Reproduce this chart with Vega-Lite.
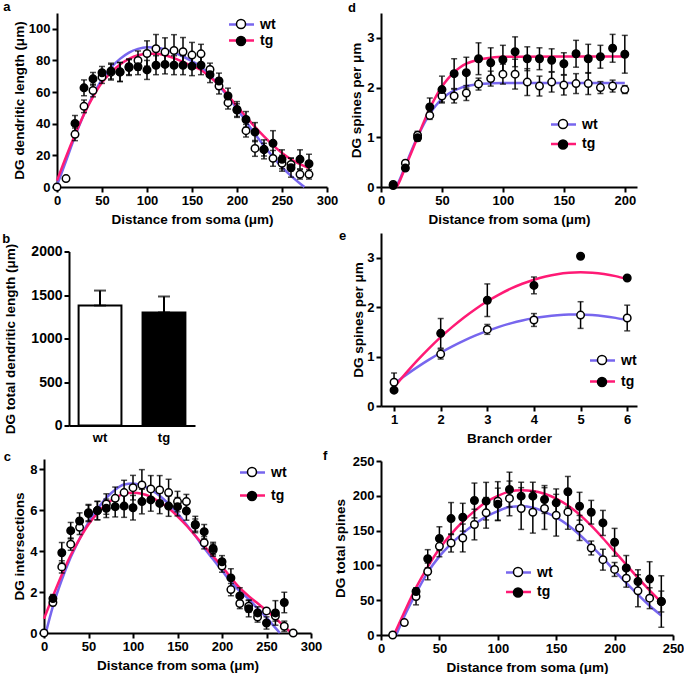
{
"$schema":"https://vega.github.io/schema/vega-lite/v6.json",
"padding":{"left":2,"top":1,"right":0,"bottom":0},
"datasets":{
"aFit":[
{"x":0,"fit":"wt","y":1},{"x":10,"fit":"wt","y":16.4},{"x":20,"fit":"wt","y":32},{"x":30,"fit":"wt","y":46},{"x":40,"fit":"wt","y":58},{"x":50,"fit":"wt","y":68},{"x":60,"fit":"wt","y":75.5},{"x":70,"fit":"wt","y":81},{"x":80,"fit":"wt","y":85},{"x":90,"fit":"wt","y":87.3},{"x":100,"fit":"wt","y":88.3},{"x":110,"fit":"wt","y":88.2},{"x":120,"fit":"wt","y":87},{"x":130,"fit":"wt","y":85},{"x":140,"fit":"wt","y":82.5},{"x":150,"fit":"wt","y":79.5},{"x":160,"fit":"wt","y":76},{"x":170,"fit":"wt","y":70.5},{"x":180,"fit":"wt","y":64},{"x":190,"fit":"wt","y":57},{"x":200,"fit":"wt","y":49.5},{"x":210,"fit":"wt","y":41.5},{"x":220,"fit":"wt","y":33.5},{"x":230,"fit":"wt","y":26},{"x":240,"fit":"wt","y":19},{"x":250,"fit":"wt","y":12.5},{"x":260,"fit":"wt","y":7},{"x":270,"fit":"wt","y":2.2},{"x":275,"fit":"wt","y":0},
{"x":0,"fit":"tg","y":4},{"x":10,"fit":"tg","y":19},{"x":20,"fit":"tg","y":33},{"x":30,"fit":"tg","y":46},{"x":40,"fit":"tg","y":57},{"x":50,"fit":"tg","y":66},{"x":60,"fit":"tg","y":72.5},{"x":70,"fit":"tg","y":77.5},{"x":80,"fit":"tg","y":81},{"x":90,"fit":"tg","y":83.3},{"x":100,"fit":"tg","y":84.3},{"x":110,"fit":"tg","y":84.3},{"x":120,"fit":"tg","y":83.3},{"x":130,"fit":"tg","y":81.5},{"x":140,"fit":"tg","y":79},{"x":150,"fit":"tg","y":76.5},{"x":160,"fit":"tg","y":74},{"x":170,"fit":"tg","y":69.5},{"x":180,"fit":"tg","y":64.5},{"x":190,"fit":"tg","y":58},{"x":200,"fit":"tg","y":51},{"x":210,"fit":"tg","y":44.5},{"x":220,"fit":"tg","y":38},{"x":230,"fit":"tg","y":32},{"x":240,"fit":"tg","y":26.5},{"x":250,"fit":"tg","y":21.5},{"x":260,"fit":"tg","y":17.5},{"x":270,"fit":"tg","y":14.5},{"x":280,"fit":"tg","y":12}
],
"aPts":[
{"x":0,"group":"wt","v":0,"err":0},{"x":10,"group":"wt","v":5.3,"err":1},{"x":20,"group":"wt","v":33.3,"err":4},{"x":30,"group":"wt","v":51,"err":4},{"x":40,"group":"wt","v":61,"err":4},{"x":50,"group":"wt","v":69.5,"err":4},{"x":60,"group":"wt","v":72.6,"err":5},{"x":70,"group":"wt","v":72.6,"err":6},{"x":80,"group":"wt","v":76,"err":5},{"x":90,"group":"wt","v":80,"err":6},{"x":100,"group":"wt","v":84.4,"err":8},{"x":110,"group":"wt","v":87.4,"err":9},{"x":120,"group":"wt","v":85.3,"err":9},{"x":130,"group":"wt","v":86.3,"err":10},{"x":140,"group":"wt","v":85.5,"err":9},{"x":150,"group":"wt","v":83.4,"err":8},{"x":160,"group":"wt","v":84.2,"err":6},{"x":170,"group":"wt","v":74.3,"err":4},{"x":180,"group":"wt","v":63.8,"err":5},{"x":190,"group":"wt","v":53.3,"err":4},{"x":200,"group":"wt","v":48.6,"err":4},{"x":210,"group":"wt","v":35.6,"err":4},{"x":220,"group":"wt","v":24.4,"err":5},{"x":230,"group":"wt","v":23.6,"err":4},{"x":240,"group":"wt","v":18.1,"err":5},{"x":250,"group":"wt","v":15,"err":5},{"x":260,"group":"wt","v":14.3,"err":4},{"x":270,"group":"wt","v":8,"err":3},{"x":280,"group":"wt","v":8,"err":3},
{"x":20,"group":"tg","v":40.2,"err":5},{"x":30,"group":"tg","v":62.7,"err":5},{"x":40,"group":"tg","v":68.4,"err":4},{"x":50,"group":"tg","v":72.2,"err":4},{"x":60,"group":"tg","v":73.3,"err":5},{"x":70,"group":"tg","v":72.8,"err":6},{"x":80,"group":"tg","v":75.5,"err":5},{"x":90,"group":"tg","v":76,"err":5},{"x":100,"group":"tg","v":74,"err":6},{"x":110,"group":"tg","v":77,"err":6},{"x":120,"group":"tg","v":77.5,"err":6},{"x":130,"group":"tg","v":77,"err":6},{"x":140,"group":"tg","v":77,"err":6},{"x":150,"group":"tg","v":76.4,"err":6},{"x":160,"group":"tg","v":77,"err":6},{"x":170,"group":"tg","v":71,"err":5},{"x":180,"group":"tg","v":67,"err":5},{"x":190,"group":"tg","v":57.5,"err":5},{"x":200,"group":"tg","v":49,"err":5},{"x":210,"group":"tg","v":42.7,"err":5},{"x":220,"group":"tg","v":34.7,"err":6},{"x":230,"group":"tg","v":23.8,"err":6},{"x":240,"group":"tg","v":27.6,"err":8},{"x":250,"group":"tg","v":17.5,"err":6},{"x":260,"group":"tg","v":12.2,"err":6},{"x":270,"group":"tg","v":17.5,"err":6},{"x":280,"group":"tg","v":14.7,"err":6}
],
"bBar":[{"group":"wt","v":1379,"hi":1551},{"group":"tg","v":1300,"hi":1483}],
"cFit":[
{"x":2,"fit":"wt","y":0},{"x":10,"fit":"wt","y":1.3},{"x":20,"fit":"wt","y":2.6},{"x":30,"fit":"wt","y":3.7},{"x":40,"fit":"wt","y":4.6},{"x":50,"fit":"wt","y":5.4},{"x":60,"fit":"wt","y":6.05},{"x":70,"fit":"wt","y":6.6},{"x":80,"fit":"wt","y":7.0},{"x":90,"fit":"wt","y":7.25},{"x":100,"fit":"wt","y":7.3},{"x":110,"fit":"wt","y":7.2},{"x":120,"fit":"wt","y":7.0},{"x":130,"fit":"wt","y":6.7},{"x":140,"fit":"wt","y":6.3},{"x":150,"fit":"wt","y":5.85},{"x":160,"fit":"wt","y":5.3},{"x":170,"fit":"wt","y":4.75},{"x":180,"fit":"wt","y":4.15},{"x":190,"fit":"wt","y":3.6},{"x":200,"fit":"wt","y":3.05},{"x":210,"fit":"wt","y":2.5},{"x":220,"fit":"wt","y":2.05},{"x":230,"fit":"wt","y":1.65},{"x":240,"fit":"wt","y":1.2},{"x":250,"fit":"wt","y":0.75},{"x":260,"fit":"wt","y":0.25},{"x":265,"fit":"wt","y":0},
{"x":0,"fit":"tg","y":0.7},{"x":10,"fit":"tg","y":1.8},{"x":20,"fit":"tg","y":2.85},{"x":30,"fit":"tg","y":3.8},{"x":40,"fit":"tg","y":4.6},{"x":50,"fit":"tg","y":5.3},{"x":60,"fit":"tg","y":5.85},{"x":70,"fit":"tg","y":6.3},{"x":80,"fit":"tg","y":6.6},{"x":90,"fit":"tg","y":6.8},{"x":100,"fit":"tg","y":6.85},{"x":110,"fit":"tg","y":6.8},{"x":120,"fit":"tg","y":6.65},{"x":130,"fit":"tg","y":6.4},{"x":140,"fit":"tg","y":6.1},{"x":150,"fit":"tg","y":5.7},{"x":160,"fit":"tg","y":5.25},{"x":170,"fit":"tg","y":4.75},{"x":180,"fit":"tg","y":4.25},{"x":190,"fit":"tg","y":3.75},{"x":200,"fit":"tg","y":3.25},{"x":210,"fit":"tg","y":2.7},{"x":220,"fit":"tg","y":2.2},{"x":230,"fit":"tg","y":1.8},{"x":240,"fit":"tg","y":1.45},{"x":250,"fit":"tg","y":1.1},{"x":260,"fit":"tg","y":0.72},{"x":270,"fit":"tg","y":0.32},{"x":278,"fit":"tg","y":0}
],
"cPts":[
{"x":0,"group":"wt","v":0,"err":0},{"x":10,"group":"wt","v":1.49,"err":0.15},{"x":20,"group":"wt","v":3.23,"err":0.3},{"x":30,"group":"wt","v":4.34,"err":0.3},{"x":40,"group":"wt","v":5.16,"err":0.35},{"x":50,"group":"wt","v":5.88,"err":0.4},{"x":60,"group":"wt","v":5.98,"err":0.45},{"x":70,"group":"wt","v":6.3,"err":0.5},{"x":80,"group":"wt","v":6.58,"err":0.55},{"x":90,"group":"wt","v":6.86,"err":0.6},{"x":100,"group":"wt","v":7.1,"err":0.6},{"x":110,"group":"wt","v":7.23,"err":0.75},{"x":120,"group":"wt","v":7.04,"err":0.65},{"x":130,"group":"wt","v":6.99,"err":0.7},{"x":140,"group":"wt","v":6.86,"err":0.65},{"x":150,"group":"wt","v":6.42,"err":0.5},{"x":160,"group":"wt","v":6.42,"err":0.35},{"x":170,"group":"wt","v":5.27,"err":0.3},{"x":180,"group":"wt","v":4.41,"err":0.3},{"x":190,"group":"wt","v":4.05,"err":0.3},{"x":200,"group":"wt","v":3.27,"err":0.3},{"x":210,"group":"wt","v":2.12,"err":0.3},{"x":220,"group":"wt","v":1.44,"err":0.25},{"x":230,"group":"wt","v":1.31,"err":0.3},{"x":240,"group":"wt","v":0.78,"err":0.25},{"x":250,"group":"wt","v":1.08,"err":0.1},{"x":260,"group":"wt","v":0.83,"err":0.25},{"x":270,"group":"wt","v":0.33,"err":0.25},{"x":280,"group":"wt","v":0,"err":0},
{"x":10,"group":"tg","v":1.68,"err":0.2},{"x":20,"group":"tg","v":3.92,"err":0.5},{"x":30,"group":"tg","v":5.0,"err":0.4},{"x":40,"group":"tg","v":5.47,"err":0.4},{"x":50,"group":"tg","v":5.84,"err":0.4},{"x":60,"group":"tg","v":5.98,"err":0.45},{"x":70,"group":"tg","v":6.09,"err":0.45},{"x":80,"group":"tg","v":6.17,"err":0.5},{"x":90,"group":"tg","v":6.2,"err":0.55},{"x":100,"group":"tg","v":6.12,"err":0.6},{"x":110,"group":"tg","v":6.42,"err":0.6},{"x":120,"group":"tg","v":6.5,"err":0.55},{"x":130,"group":"tg","v":6.33,"err":0.5},{"x":140,"group":"tg","v":6.2,"err":0.5},{"x":150,"group":"tg","v":6.17,"err":0.45},{"x":160,"group":"tg","v":5.96,"err":0.45},{"x":170,"group":"tg","v":5.3,"err":0.4},{"x":180,"group":"tg","v":4.95,"err":0.35},{"x":190,"group":"tg","v":4.13,"err":0.3},{"x":200,"group":"tg","v":3.48,"err":0.3},{"x":210,"group":"tg","v":2.69,"err":0.45},{"x":220,"group":"tg","v":1.81,"err":0.4},{"x":230,"group":"tg","v":1.19,"err":0.4},{"x":240,"group":"tg","v":0.98,"err":0.3},{"x":250,"group":"tg","v":0.49,"err":0.3},{"x":260,"group":"tg","v":0.98,"err":0.6},{"x":270,"group":"tg","v":1.49,"err":0.5}
],
"dFit":[
{"x":12,"fit":"wt","y":0},{"x":15,"fit":"wt","y":0.13},{"x":20,"fit":"wt","y":0.43},{"x":25,"fit":"wt","y":0.73},{"x":30,"fit":"wt","y":1.01},{"x":35,"fit":"wt","y":1.26},{"x":40,"fit":"wt","y":1.47},{"x":45,"fit":"wt","y":1.64},{"x":50,"fit":"wt","y":1.77},{"x":55,"fit":"wt","y":1.87},{"x":60,"fit":"wt","y":1.94},{"x":65,"fit":"wt","y":1.99},{"x":70,"fit":"wt","y":2.03},{"x":80,"fit":"wt","y":2.07},{"x":90,"fit":"wt","y":2.085},{"x":100,"fit":"wt","y":2.09},{"x":150,"fit":"wt","y":2.09},{"x":200,"fit":"wt","y":2.09},
{"x":13,"fit":"tg","y":0},{"x":15,"fit":"tg","y":0.1},{"x":20,"fit":"tg","y":0.4},{"x":25,"fit":"tg","y":0.7},{"x":30,"fit":"tg","y":1.0},{"x":35,"fit":"tg","y":1.3},{"x":40,"fit":"tg","y":1.58},{"x":45,"fit":"tg","y":1.82},{"x":50,"fit":"tg","y":2.02},{"x":55,"fit":"tg","y":2.18},{"x":60,"fit":"tg","y":2.31},{"x":65,"fit":"tg","y":2.41},{"x":70,"fit":"tg","y":2.48},{"x":80,"fit":"tg","y":2.56},{"x":90,"fit":"tg","y":2.6},{"x":100,"fit":"tg","y":2.62},{"x":150,"fit":"tg","y":2.625},{"x":200,"fit":"tg","y":2.625}
],
"dPts":[
{"x":10,"group":"wt","v":0.05,"err":0},{"x":20,"group":"wt","v":0.48,"err":0.05},{"x":30,"group":"wt","v":1.04,"err":0.08},{"x":40,"group":"wt","v":1.44,"err":0.08},{"x":50,"group":"wt","v":1.83,"err":0.12},{"x":60,"group":"wt","v":1.83,"err":0.14},{"x":70,"group":"wt","v":1.89,"err":0.15},{"x":80,"group":"wt","v":2.07,"err":0.12},{"x":90,"group":"wt","v":2.18,"err":0.15},{"x":100,"group":"wt","v":2.27,"err":0.2},{"x":110,"group":"wt","v":2.27,"err":0.3},{"x":120,"group":"wt","v":2.11,"err":0.27},{"x":130,"group":"wt","v":2.03,"err":0.2},{"x":140,"group":"wt","v":2.11,"err":0.2},{"x":150,"group":"wt","v":2.05,"err":0.2},{"x":160,"group":"wt","v":2.08,"err":0.2},{"x":170,"group":"wt","v":2.08,"err":0.22},{"x":180,"group":"wt","v":2.0,"err":0.12},{"x":190,"group":"wt","v":2.03,"err":0.12},{"x":200,"group":"wt","v":1.96,"err":0.08},
{"x":10,"group":"tg","v":0.03,"err":0},{"x":20,"group":"tg","v":0.38,"err":0.04},{"x":30,"group":"tg","v":0.99,"err":0.07},{"x":40,"group":"tg","v":1.61,"err":0.18},{"x":50,"group":"tg","v":1.96,"err":0.27},{"x":60,"group":"tg","v":2.28,"err":0.3},{"x":70,"group":"tg","v":2.3,"err":0.31},{"x":80,"group":"tg","v":2.58,"err":0.32},{"x":90,"group":"tg","v":2.5,"err":0.3},{"x":100,"group":"tg","v":2.56,"err":0.29},{"x":110,"group":"tg","v":2.72,"err":0.3},{"x":120,"group":"tg","v":2.58,"err":0.24},{"x":130,"group":"tg","v":2.58,"err":0.22},{"x":140,"group":"tg","v":2.55,"err":0.23},{"x":150,"group":"tg","v":2.48,"err":0.22},{"x":160,"group":"tg","v":2.68,"err":0.27},{"x":170,"group":"tg","v":2.58,"err":0.29},{"x":180,"group":"tg","v":2.62,"err":0.23},{"x":190,"group":"tg","v":2.79,"err":0.28},{"x":200,"group":"tg","v":2.67,"err":0.38}
],
"eFit":[
{"x":1,"fit":"wt","y":0.45},{"x":1.25,"fit":"wt","y":0.624},{"x":1.5,"fit":"wt","y":0.787},{"x":1.75,"fit":"wt","y":0.938},{"x":2,"fit":"wt","y":1.078},{"x":2.25,"fit":"wt","y":1.206},{"x":2.5,"fit":"wt","y":1.322},{"x":2.75,"fit":"wt","y":1.427},{"x":3,"fit":"wt","y":1.52},{"x":3.25,"fit":"wt","y":1.602},{"x":3.5,"fit":"wt","y":1.672},{"x":3.75,"fit":"wt","y":1.731},{"x":4,"fit":"wt","y":1.778},{"x":4.25,"fit":"wt","y":1.813},{"x":4.5,"fit":"wt","y":1.837},{"x":4.75,"fit":"wt","y":1.849},{"x":5,"fit":"wt","y":1.85},{"x":5.25,"fit":"wt","y":1.839},{"x":5.5,"fit":"wt","y":1.817},{"x":5.75,"fit":"wt","y":1.783},{"x":6,"fit":"wt","y":1.738},
{"x":1,"fit":"tg","y":0.38},{"x":1.25,"fit":"tg","y":0.66},{"x":1.5,"fit":"tg","y":0.923},{"x":1.75,"fit":"tg","y":1.167},{"x":2,"fit":"tg","y":1.394},{"x":2.25,"fit":"tg","y":1.601},{"x":2.5,"fit":"tg","y":1.792},{"x":2.75,"fit":"tg","y":1.964},{"x":3,"fit":"tg","y":2.118},{"x":3.25,"fit":"tg","y":2.254},{"x":3.5,"fit":"tg","y":2.373},{"x":3.75,"fit":"tg","y":2.473},{"x":4,"fit":"tg","y":2.555},{"x":4.25,"fit":"tg","y":2.619},{"x":4.5,"fit":"tg","y":2.666},{"x":4.75,"fit":"tg","y":2.694},{"x":5,"fit":"tg","y":2.704},{"x":5.25,"fit":"tg","y":2.696},{"x":5.5,"fit":"tg","y":2.671},{"x":5.75,"fit":"tg","y":2.627},{"x":6,"fit":"tg","y":2.565}
],
"ePts":[
{"x":1,"group":"wt","v":0.48,"err":0.19},{"x":2,"group":"wt","v":1.05,"err":0.1},{"x":3,"group":"wt","v":1.55,"err":0.1},{"x":4,"group":"wt","v":1.74,"err":0.13},{"x":5,"group":"wt","v":1.84,"err":0.27},{"x":6,"group":"wt","v":1.78,"err":0.26},
{"x":1,"group":"tg","v":0.32,"err":0},{"x":2,"group":"tg","v":1.47,"err":0.3},{"x":3,"group":"tg","v":2.14,"err":0.33},{"x":4,"group":"tg","v":2.44,"err":0.17},{"x":5,"group":"tg","v":3.03,"err":0},{"x":6,"group":"tg","v":2.59,"err":0}
],
"fFit":[
{"x":13,"fit":"wt","y":0},{"x":20,"fit":"wt","y":27},{"x":30,"fit":"wt","y":60},{"x":40,"fit":"wt","y":90},{"x":50,"fit":"wt","y":113},{"x":60,"fit":"wt","y":131},{"x":70,"fit":"wt","y":146},{"x":80,"fit":"wt","y":159},{"x":90,"fit":"wt","y":170},{"x":100,"fit":"wt","y":178},{"x":110,"fit":"wt","y":184},{"x":120,"fit":"wt","y":185},{"x":130,"fit":"wt","y":183},{"x":140,"fit":"wt","y":177},{"x":150,"fit":"wt","y":169},{"x":160,"fit":"wt","y":158},{"x":170,"fit":"wt","y":144},{"x":180,"fit":"wt","y":128},{"x":190,"fit":"wt","y":111},{"x":200,"fit":"wt","y":92},{"x":210,"fit":"wt","y":75},{"x":220,"fit":"wt","y":58},{"x":230,"fit":"wt","y":42},{"x":240,"fit":"wt","y":28},
{"x":11,"fit":"tg","y":0},{"x":20,"fit":"tg","y":33},{"x":30,"fit":"tg","y":68},{"x":40,"fit":"tg","y":98},{"x":50,"fit":"tg","y":124},{"x":60,"fit":"tg","y":145},{"x":70,"fit":"tg","y":163},{"x":80,"fit":"tg","y":178},{"x":90,"fit":"tg","y":191},{"x":100,"fit":"tg","y":200},{"x":110,"fit":"tg","y":206},{"x":120,"fit":"tg","y":208},{"x":130,"fit":"tg","y":207},{"x":140,"fit":"tg","y":203},{"x":150,"fit":"tg","y":196},{"x":160,"fit":"tg","y":186},{"x":170,"fit":"tg","y":173},{"x":180,"fit":"tg","y":157},{"x":190,"fit":"tg","y":139},{"x":200,"fit":"tg","y":120},{"x":210,"fit":"tg","y":101},{"x":220,"fit":"tg","y":82},{"x":230,"fit":"tg","y":64},{"x":240,"fit":"tg","y":47}
],
"fPts":[
{"x":10,"group":"wt","v":0,"err":0},{"x":20,"group":"wt","v":17.8,"err":3},{"x":30,"group":"wt","v":55.3,"err":12},{"x":40,"group":"wt","v":91.3,"err":12},{"x":50,"group":"wt","v":127.4,"err":15},{"x":60,"group":"wt","v":132.2,"err":13},{"x":70,"group":"wt","v":139.4,"err":20},{"x":80,"group":"wt","v":158.7,"err":22},{"x":90,"group":"wt","v":175.5,"err":22},{"x":100,"group":"wt","v":192.3,"err":28},{"x":110,"group":"wt","v":196.2,"err":25},{"x":120,"group":"wt","v":181.7,"err":30},{"x":130,"group":"wt","v":176.4,"err":30},{"x":140,"group":"wt","v":181.7,"err":30},{"x":150,"group":"wt","v":172.1,"err":30},{"x":160,"group":"wt","v":176.9,"err":25},{"x":170,"group":"wt","v":153.8,"err":18},{"x":180,"group":"wt","v":125,"err":10},{"x":190,"group":"wt","v":108.2,"err":15},{"x":200,"group":"wt","v":94.2,"err":10},{"x":210,"group":"wt","v":81.7,"err":13},{"x":220,"group":"wt","v":63.5,"err":23},{"x":230,"group":"wt","v":52.9,"err":15},{"x":240,"group":"wt","v":48.1,"err":37},
{"x":30,"group":"tg","v":62.5,"err":5},{"x":40,"group":"tg","v":109.6,"err":13},{"x":50,"group":"tg","v":138.5,"err":17},{"x":60,"group":"tg","v":167.3,"err":23},{"x":70,"group":"tg","v":169.2,"err":20},{"x":80,"group":"tg","v":193.3,"err":25},{"x":90,"group":"tg","v":192.3,"err":27},{"x":100,"group":"tg","v":188,"err":23},{"x":110,"group":"tg","v":209,"err":25},{"x":120,"group":"tg","v":199.5,"err":20},{"x":130,"group":"tg","v":199.5,"err":20},{"x":140,"group":"tg","v":194.7,"err":20},{"x":150,"group":"tg","v":189.9,"err":20},{"x":160,"group":"tg","v":205.8,"err":22},{"x":170,"group":"tg","v":185,"err":20},{"x":180,"group":"tg","v":176.4,"err":17},{"x":190,"group":"tg","v":161,"err":18},{"x":200,"group":"tg","v":133.2,"err":20},{"x":210,"group":"tg","v":96.2,"err":18},{"x":220,"group":"tg","v":76.9,"err":17},{"x":230,"group":"tg","v":80.3,"err":25},{"x":240,"group":"tg","v":48.1,"err":15}
]
},
"spacing":-15,
"resolve":{"scale":{"stroke":"independent","fill":"independent"},"legend":{"stroke":"independent","fill":"independent"}},
"hconcat":[
{"vconcat":[
{"width":283,"height":174,
 "title":{"text":"a","offset":-1,"dx":-9},
 "layer":[
 {"data":{"name":"aFit"},"mark":{"type":"line","strokeWidth":2.5,"interpolate":"monotone"},
  "encoding":{"x":{"field":"x","type":"quantitative","scale":{"domain":[0,300],"range":[13,283],"nice":false},"axis":{"values":[0,50,100,150,200,250,300],"format":"d","title":"Distance from soma (μm)","labelOverlap":false}},
   "y":{"field":"y","type":"quantitative","scale":{"domain":[0,110],"nice":false},"axis":{"values":[0,20,40,60,80,100],"format":"d","title":"DG dendritic length (μm)","titlePadding":2,"offset":-13,"labelOverlap":false}},
   "stroke":{"field":"fit","type":"nominal","sort":"descending","scale":{"range":["#7766ee","#ff1a75"]},"legend":{"orient":"none","legendX":190,"legendY":4,"direction":"vertical","title":null,"symbolType":"M-2,0H2","symbolSize":156.25,"symbolStrokeWidth":2.5,"symbolFillColor":"transparent","rowPadding":1,"padding":0,"labelOffset":11}}}},
 {"data":{"name":"aPts"},"transform":[{"filter":"datum.err > 0"}],"mark":{"type":"errorbar","color":"black","thickness":1.5,"ticks":{"size":6,"thickness":1.5,"color":"black"}},
  "encoding":{"x":{"field":"x","type":"quantitative","axis":{"values":[0,50,100,150,200,250,300],"format":"d","title":"Distance from soma (μm)","labelOverlap":false}},"y":{"field":"v","type":"quantitative","axis":{"values":[0,20,40,60,80,100],"format":"d","title":"DG dendritic length (μm)","titlePadding":2,"offset":-13,"labelOverlap":false}},"yError":{"field":"err"}}},
 {"data":{"name":"aPts"},"mark":{"type":"point","shape":"circle","filled":true,"size":56,"stroke":"black","strokeWidth":1.5,"opacity":1},
  "encoding":{"x":{"field":"x","type":"quantitative","axis":{"values":[0,50,100,150,200,250,300],"format":"d","title":"Distance from soma (μm)","labelOverlap":false}},"y":{"field":"v","type":"quantitative","axis":{"values":[0,20,40,60,80,100],"format":"d","title":"DG dendritic length (μm)","titlePadding":2,"offset":-13,"labelOverlap":false}},
   "fill":{"field":"group","type":"nominal","sort":"descending","scale":{"range":["white","black"]},"legend":{"orient":"none","legendX":190,"legendY":4,"direction":"vertical","title":null,"symbolType":"M0.72,0A0.72,0.72,0,1,1,-0.72,0A0.72,0.72,0,1,1,0.72,0Z","symbolSize":156.25,"symbolStrokeColor":"black","symbolStrokeWidth":1.5,"symbolOpacity":1,"rowPadding":1,"padding":0,"labelOffset":11,"labelOpacity":0}}}}
 ]},
{"width":151,"height":174,
 "title":{"text":"b","offset":-3,"dx":-1.5},
 "data":{"name":"bBar"},
 "layer":[
 {"mark":{"type":"bar","stroke":"black","strokeWidth":2},
  "encoding":{"x":{"field":"group","type":"nominal","sort":["wt","tg"],"scale":{"range":[25,151],"paddingInner":0.33,"paddingOuter":0.15},"axis":{"title":null,"labelAngle":0,"ticks":false,"labelPadding":6}},
   "y":{"field":"v","type":"quantitative","scale":{"domain":[0,2000],"nice":false},"axis":{"values":[0,500,1000,1500,2000],"format":"d","title":"DG total dendritic length (μm)","titlePadding":13,"labelFontSize":14,"offset":-25,"labelOverlap":false}},
   "fill":{"field":"group","type":"nominal","scale":{"domain":["wt","tg"],"range":["white","black"]},"legend":null}}},
 {"mark":{"type":"errorbar","color":"black","thickness":2,"ticks":{"size":12,"thickness":2,"color":"black"}},
  "encoding":{"x":{"field":"group","type":"nominal","sort":["wt","tg"],"axis":{"title":null,"labelAngle":0,"ticks":false,"labelPadding":6}},"y":{"field":"v","type":"quantitative","axis":{"values":[0,500,1000,1500,2000],"format":"d","title":"DG total dendritic length (μm)","titlePadding":13,"labelFontSize":14,"offset":-25,"labelOverlap":false}},"y2":{"field":"hi"}}}
 ]},
{"width":267,"height":174,
 "title":{"text":"c","offset":-5,"dx":-9},
 "layer":[
 {"data":{"name":"cFit"},"mark":{"type":"line","strokeWidth":2.5,"interpolate":"monotone"},
  "encoding":{"x":{"field":"x","type":"quantitative","scale":{"domain":[0,300],"nice":false},"axis":{"values":[0,50,100,150,200,250,300],"format":"d","title":"Distance from soma (μm)","labelOverlap":false}},
   "y":{"field":"y","type":"quantitative","scale":{"domain":[0,8.5],"nice":false},"axis":{"values":[0,2,4,6,8],"format":"d","title":"DG intersections","titlePadding":3,"labelOverlap":false}},
   "stroke":{"field":"fit","type":"nominal","sort":"descending","scale":{"range":["#7766ee","#ff1a75"]},"legend":{"orient":"none","legendX":201,"legendY":6,"direction":"vertical","title":null,"symbolType":"M-2,0H2","symbolSize":156.25,"symbolStrokeWidth":2.5,"symbolFillColor":"transparent","rowPadding":8,"padding":0,"labelOffset":11}}}},
 {"data":{"name":"cPts"},"transform":[{"filter":"datum.err > 0"}],"mark":{"type":"errorbar","color":"black","thickness":1.5,"ticks":{"size":6,"thickness":1.5,"color":"black"}},
  "encoding":{"x":{"field":"x","type":"quantitative","axis":{"values":[0,50,100,150,200,250,300],"format":"d","title":"Distance from soma (μm)","labelOverlap":false}},"y":{"field":"v","type":"quantitative","axis":{"values":[0,2,4,6,8],"format":"d","title":"DG intersections","titlePadding":3,"labelOverlap":false}},"yError":{"field":"err"}}},
 {"data":{"name":"cPts"},"mark":{"type":"point","shape":"circle","filled":true,"size":56,"stroke":"black","strokeWidth":1.5,"opacity":1},
  "encoding":{"x":{"field":"x","type":"quantitative","axis":{"values":[0,50,100,150,200,250,300],"format":"d","title":"Distance from soma (μm)","labelOverlap":false}},"y":{"field":"v","type":"quantitative","axis":{"values":[0,2,4,6,8],"format":"d","title":"DG intersections","titlePadding":3,"labelOverlap":false}},
   "fill":{"field":"group","type":"nominal","sort":"descending","scale":{"range":["white","black"]},"legend":{"orient":"none","legendX":201,"legendY":6,"direction":"vertical","title":null,"symbolType":"M0.72,0A0.72,0.72,0,1,1,-0.72,0A0.72,0.72,0,1,1,0.72,0Z","symbolSize":156.25,"symbolStrokeColor":"black","symbolStrokeWidth":1.5,"symbolOpacity":1,"rowPadding":8,"padding":0,"labelOffset":11,"labelOpacity":0}}}}
 ]}
],"spacing":6.5,
"resolve":{"scale":{"stroke":"independent","fill":"independent"},"legend":{"stroke":"independent","fill":"independent"}}},
{"vconcat":[
{"width":256,"height":174,
 "title":{"text":"d","offset":-2,"dx":-33,"frame":"group"},
 "layer":[
 {"data":{"name":"dFit"},"mark":{"type":"line","strokeWidth":2.5,"interpolate":"monotone"},
  "encoding":{"x":{"field":"x","type":"quantitative","scale":{"domain":[0,210],"nice":false},"axis":{"values":[0,50,100,150,200],"format":"d","title":"Distance from soma (μm)","labelOverlap":false}},
   "y":{"field":"y","type":"quantitative","scale":{"domain":[0,3.5],"nice":false},"axis":{"values":[0,1,2,3],"format":"d","title":"DG spines per μm","titlePadding":3,"labelOverlap":false}},
   "stroke":{"field":"fit","type":"nominal","sort":"descending","scale":{"range":["#7766ee","#ff1a75"]},"legend":{"orient":"none","legendX":175,"legendY":104,"direction":"vertical","title":null,"symbolType":"M-2,0H2","symbolSize":156.25,"symbolStrokeWidth":2.5,"symbolFillColor":"transparent","rowPadding":4.5,"padding":0,"labelOffset":11}}}},
 {"data":{"name":"dPts"},"transform":[{"filter":"datum.err > 0"}],"mark":{"type":"errorbar","color":"black","thickness":1.5,"ticks":{"size":6,"thickness":1.5,"color":"black"}},
  "encoding":{"x":{"field":"x","type":"quantitative","axis":{"values":[0,50,100,150,200],"format":"d","title":"Distance from soma (μm)","labelOverlap":false}},"y":{"field":"v","type":"quantitative","axis":{"values":[0,1,2,3],"format":"d","title":"DG spines per μm","titlePadding":3,"labelOverlap":false}},"yError":{"field":"err"}}},
 {"data":{"name":"dPts"},"mark":{"type":"point","shape":"circle","filled":true,"size":56,"stroke":"black","strokeWidth":1.5,"opacity":1},
  "encoding":{"x":{"field":"x","type":"quantitative","axis":{"values":[0,50,100,150,200],"format":"d","title":"Distance from soma (μm)","labelOverlap":false}},"y":{"field":"v","type":"quantitative","axis":{"values":[0,1,2,3],"format":"d","title":"DG spines per μm","titlePadding":3,"labelOverlap":false}},
   "fill":{"field":"group","type":"nominal","sort":"descending","scale":{"range":["white","black"]},"legend":{"orient":"none","legendX":175,"legendY":104,"direction":"vertical","title":null,"symbolType":"M0.72,0A0.72,0.72,0,1,1,-0.72,0A0.72,0.72,0,1,1,0.72,0Z","symbolSize":156.25,"symbolStrokeColor":"black","symbolStrokeWidth":1.5,"symbolOpacity":1,"rowPadding":4.5,"padding":0,"labelOffset":11,"labelOpacity":0}}}}
 ]},
{"width":256,"height":173,
 "title":{"text":"e","offset":-10.4,"dx":-42,"frame":"group"},
 "layer":[
 {"data":{"name":"eFit"},"mark":{"type":"line","strokeWidth":2.5,"interpolate":"monotone"},
  "encoding":{"x":{"field":"x","type":"quantitative","scale":{"domain":[0.72,6.21],"nice":false,"zero":false},"axis":{"values":[1,2,3,4,5,6],"format":"d","title":"Branch order","labelOverlap":false}},
   "y":{"field":"y","type":"quantitative","scale":{"domain":[0,3.5],"nice":false},"axis":{"values":[0,1,2,3],"format":"d","title":"DG spines per μm","titlePadding":1,"labelOverlap":false}},
   "stroke":{"field":"fit","type":"nominal","sort":"descending","scale":{"range":["#7766ee","#ff1a75"]},"legend":{"orient":"none","legendX":214,"legendY":120,"direction":"vertical","title":null,"symbolType":"M-2,0H2","symbolSize":156.25,"symbolStrokeWidth":2.5,"symbolFillColor":"transparent","rowPadding":6,"padding":0,"labelOffset":11}}}},
 {"data":{"name":"ePts"},"transform":[{"filter":"datum.err > 0"}],"mark":{"type":"errorbar","color":"black","thickness":1.5,"ticks":{"size":6,"thickness":1.5,"color":"black"}},
  "encoding":{"x":{"field":"x","type":"quantitative","axis":{"values":[1,2,3,4,5,6],"format":"d","title":"Branch order","labelOverlap":false}},"y":{"field":"v","type":"quantitative","axis":{"values":[0,1,2,3],"format":"d","title":"DG spines per μm","titlePadding":1,"labelOverlap":false}},"yError":{"field":"err"}}},
 {"data":{"name":"ePts"},"mark":{"type":"point","shape":"circle","filled":true,"size":56,"stroke":"black","strokeWidth":1.5,"opacity":1},
  "encoding":{"x":{"field":"x","type":"quantitative","axis":{"values":[1,2,3,4,5,6],"format":"d","title":"Branch order","labelOverlap":false}},"y":{"field":"v","type":"quantitative","axis":{"values":[0,1,2,3],"format":"d","title":"DG spines per μm","titlePadding":1,"labelOverlap":false}},
   "fill":{"field":"group","type":"nominal","sort":"descending","scale":{"range":["white","black"]},"legend":{"orient":"none","legendX":214,"legendY":120,"direction":"vertical","title":null,"symbolType":"M0.72,0A0.72,0.72,0,1,1,-0.72,0A0.72,0.72,0,1,1,0.72,0Z","symbolSize":156.25,"symbolStrokeColor":"black","symbolStrokeWidth":1.5,"symbolOpacity":1,"rowPadding":6,"padding":0,"labelOffset":11,"labelOpacity":0}}}}
 ]},
{"width":292,"height":174,
 "title":{"text":"f","offset":-7.7,"dx":-58,"frame":"group"},
 "layer":[
 {"data":{"name":"fFit"},"mark":{"type":"line","strokeWidth":2.5,"interpolate":"monotone"},
  "encoding":{"x":{"field":"x","type":"quantitative","scale":{"domain":[0,250],"nice":false},"axis":{"values":[0,50,100,150,200,250],"format":"d","title":"Distance from soma (μm)","labelOverlap":false}},
   "y":{"field":"y","type":"quantitative","scale":{"domain":[0,250],"nice":false},"axis":{"values":[0,50,100,150,200,250],"format":"d","title":"DG total spines","titlePadding":5,"labelOverlap":false}},
   "stroke":{"field":"fit","type":"nominal","sort":"descending","scale":{"range":["#7766ee","#ff1a75"]},"legend":{"orient":"none","legendX":130,"legendY":104,"direction":"vertical","title":null,"symbolType":"M-2,0H2","symbolSize":156.25,"symbolStrokeWidth":2.5,"symbolFillColor":"transparent","rowPadding":4.5,"padding":0,"labelOffset":11}}}},
 {"data":{"name":"fPts"},"transform":[{"filter":"datum.err > 0"}],"mark":{"type":"errorbar","color":"black","thickness":1.5,"ticks":{"size":6,"thickness":1.5,"color":"black"}},
  "encoding":{"x":{"field":"x","type":"quantitative","axis":{"values":[0,50,100,150,200,250],"format":"d","title":"Distance from soma (μm)","labelOverlap":false}},"y":{"field":"v","type":"quantitative","axis":{"values":[0,50,100,150,200,250],"format":"d","title":"DG total spines","titlePadding":5,"labelOverlap":false}},"yError":{"field":"err"}}},
 {"data":{"name":"fPts"},"mark":{"type":"point","shape":"circle","filled":true,"size":56,"stroke":"black","strokeWidth":1.5,"opacity":1},
  "encoding":{"x":{"field":"x","type":"quantitative","axis":{"values":[0,50,100,150,200,250],"format":"d","title":"Distance from soma (μm)","labelOverlap":false}},"y":{"field":"v","type":"quantitative","axis":{"values":[0,50,100,150,200,250],"format":"d","title":"DG total spines","titlePadding":5,"labelOverlap":false}},
   "fill":{"field":"group","type":"nominal","sort":"descending","scale":{"range":["white","black"]},"legend":{"orient":"none","legendX":130,"legendY":104,"direction":"vertical","title":null,"symbolType":"M0.72,0A0.72,0.72,0,1,1,-0.72,0A0.72,0.72,0,1,1,0.72,0Z","symbolSize":156.25,"symbolStrokeColor":"black","symbolStrokeWidth":1.5,"symbolOpacity":1,"rowPadding":4.5,"padding":0,"labelOffset":11,"labelOpacity":0}}}}
 ]}
],"spacing":4,
"resolve":{"scale":{"stroke":"independent","fill":"independent"},"legend":{"stroke":"independent","fill":"independent"}}}
],
"config":{
 "font":"Liberation Sans",
 "view":{"stroke":null},
 "axis":{"domainColor":"black","domainWidth":2,"tickColor":"black","tickWidth":2,"tickSize":5,"labelFont":"Liberation Sans","labelFontSize":13,"labelFontWeight":"bold","labelColor":"black","labelPadding":2,"titleFont":"Liberation Sans","titleFontSize":13.5,"titleFontWeight":"bold","titleColor":"black","grid":false,"labelOverlap":false,"labelFlush":false},
 "axisX":{"titlePadding":5},
 "legend":{"labelFont":"Liberation Sans","labelFontSize":14,"labelFontWeight":"bold","labelColor":"black"},
 "title":{"font":"Liberation Sans","fontSize":13,"fontWeight":"bold","color":"black","anchor":"start","frame":"bounds","baseline":"alphabetic"}
}
}
